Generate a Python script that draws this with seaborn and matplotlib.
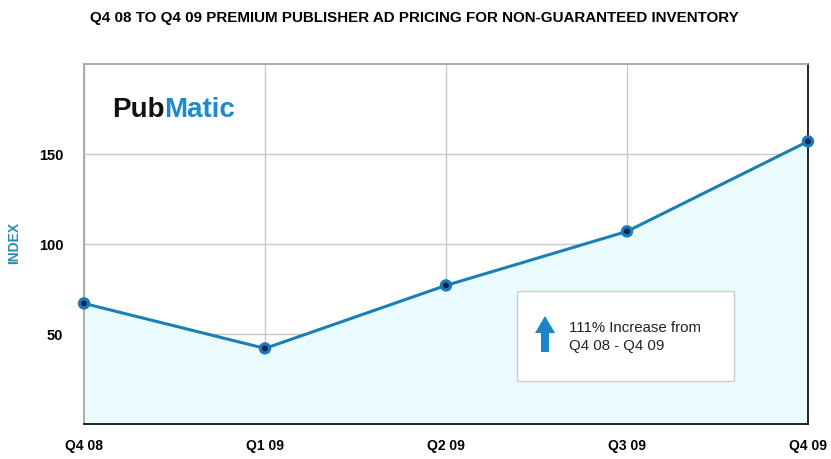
import matplotlib
matplotlib.use("Agg")
import matplotlib.pyplot as plt
import seaborn as sns
import pandas as pd
from matplotlib.patches import FancyArrow, Rectangle

quarters = ["Q4 08", "Q1 09", "Q2 09", "Q3 09", "Q4 09"]
index_values = [67, 42, 77, 107, 157]
y_ticks = [50, 100, 150]

sns.set_style("white")
plt.rcParams['font.family'] = ['Liberation Sans', 'DejaVu Sans']
plt.rcParams['text.color'] = 'black'
plt.rcParams['xtick.color'] = 'black'
plt.rcParams['ytick.color'] = 'black'

df = pd.DataFrame({"pos": range(len(quarters)), "value": index_values})

fig = plt.figure(figsize=(8.31, 4.6), dpi=100)
ax = fig.add_axes([84/831, 35/460, (808-84)/831, (425-65)/460])

ax.fill_between(df["pos"], df["value"], 0, color="#eafbff", zorder=1)
sns.lineplot(data=df, x="pos", y="value", ax=ax, color="#1a80b4", linewidth=2.2, zorder=3)
ax.scatter(df["pos"], df["value"], s=80, color="#1f78b8", zorder=7, edgecolor="none", clip_on=False)
ax.scatter(df["pos"], df["value"], s=18, color="#0b2550", zorder=8, edgecolor="none", clip_on=False)

ax.set_xlim(0, len(quarters) - 1)
ax.set_ylim(0, 200)
ax.set_xticks(range(len(quarters)))
ax.set_xticklabels(quarters, fontweight="bold", fontsize=10, color="black")
ax.set_yticks(y_ticks)
ax.set_yticklabels([str(v) for v in y_ticks], fontweight="bold", fontsize=10.5, color="black")
ax.tick_params(axis="x", length=0, pad=10)
ax.tick_params(axis="y", length=0, pad=15)
ax.grid(True, color="#c8c8c8", linewidth=1, zorder=0)
ax.set_axisbelow(True)
ax.set_xlabel("")
ax.set_ylabel("")

for side in ["left", "top"]:
    ax.spines[side].set_color("#a0a0a0")
for side in ["bottom", "right"]:
    ax.spines[side].set_color("#000000")
for s in ax.spines.values():
    s.set_linewidth(1.2)
    s.set_zorder(6)

fig.text(14/831, 1 - 243/460, "INDEX", color="#2a8ab8", fontweight="bold", fontsize=10,
         rotation=90, va="center", ha="center")

fig.text(90/831, 1 - 18/460, "Q4 08 TO Q4 09 PREMIUM PUBLISHER AD PRICING FOR NON-GUARANTEED INVENTORY",
         fontsize=10.9, fontweight="bold", va="center", ha="left", color="black")

# Logo
t1 = fig.text(112/831, 1 - 110/460, "Pub", fontsize=20, fontweight="bold", color="#111111", va="center", ha="left")
fig.canvas.draw()
bb = t1.get_window_extent()
fig.text(bb.x1 / 831, 1 - 110/460, "Matic", fontsize=20, fontweight="bold", color="#1b8ad0", va="center", ha="left")

# Annotation box
box = Rectangle((517/831, 1 - 382/460), (734-517)/831, (382-292)/460, transform=fig.transFigure,
                facecolor="white", edgecolor="#cccccc", linewidth=1, zorder=10)
fig.patches.append(box)
arr = FancyArrow(545/831, 1 - 353/460, 0, (353-317)/460, width=8/831, head_width=20/831,
                 head_length=17/460, length_includes_head=True, transform=fig.transFigure,
                 facecolor="#1a85c8", edgecolor="none", zorder=11)
fig.patches.append(arr)
fig.text(569/831, 1 - 337/460, "111% Increase from\nQ4 08 - Q4 09", fontsize=10.8,
         color="#222222", va="center", ha="left", linespacing=1.3, zorder=12)

fig.savefig("out.png", dpi=100)
